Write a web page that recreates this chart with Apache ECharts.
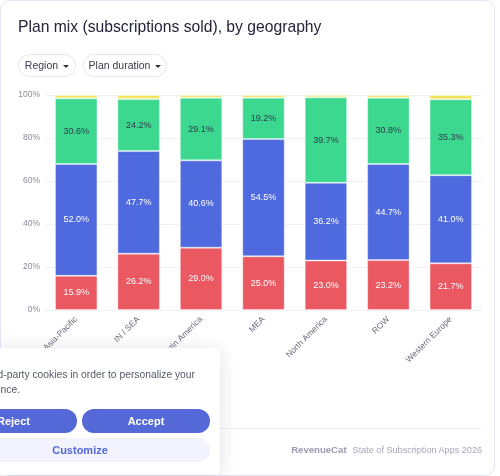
<!DOCTYPE html>
<html>
<head>
<meta charset="utf-8">
<script src="https://cdn.jsdelivr.net/npm/echarts@6/dist/echarts.min.js"></script>
<style>
  html, body { margin: 0; padding: 0; background: #fff; font-family: "Liberation Sans", Arial, sans-serif; }
  .card {
    position: absolute; left: 0; top: 0; width: 495px; height: 476px;
    border: 1px solid #e3e5f6; border-radius: 10px; box-sizing: border-box;
  }
  .title { position: absolute; left: 18px; top: 18px; font-size: 15.7px; color: #24243a; white-space: nowrap; }
  .btn {
    position: absolute; top: 54px; height: 23px; border: 1px solid #e4e4ec; border-radius: 12px;
    font-size: 10.5px; color: #3a3a4a; line-height: 21px; box-sizing: border-box; white-space: nowrap; text-align: center;
  }
  .btn .caret { display: inline-block; margin-left: 5px; border-left: 3px solid transparent; border-right: 3px solid transparent; border-top: 3px solid #333; vertical-align: middle; }
  #chart { position: absolute; left: 0; top: 0; width: 500px; height: 476px; }
  .footline { position: absolute; left: 18px; right: 18px; top: 428px; height: 1px; background: #f0f0f5; }
  .foot { position: absolute; right: 18px; top: 444px; font-size: 9.1px; color: #a6a6b8; white-space: nowrap; }
  .foot b { color: #9a9ab0; font-size: 9.6px; font-weight: 700; margin-right: 6px; }
  .banner {
    position: absolute; left: -70px; top: 348px; width: 290px; height: 127px; background: #fff;
    border-radius: 6px; box-shadow: 0 2px 18px rgba(40,40,80,0.14);
  }
  .banner .txt { position: absolute; font-size: 10.3px; color: #555866; line-height: 15px; white-space: nowrap; text-align: right; }
  .pill { position: absolute; height: 24px; border-radius: 12px; font-size: 11px; font-weight: 700; text-align: center; line-height: 24px; }
  .reject { left: 20px; top: 61px; width: 127px; background: #5468d8; color: #fff; }
  .accept { left: 152px; top: 61px; width: 128px; background: #5468d8; color: #fff; }
  .custom { left: 20px; top: 90px; width: 260px; background: #f2f3fd; color: #5468d8; }
</style>
</head>
<body>
<div class="card"></div>
<div id="chart"></div>
<div class="title">Plan mix (subscriptions sold), by geography</div>
<div class="btn" style="left:18px;width:58px;">Region<span class="caret"></span></div>
<div class="btn" style="left:83px;width:84px;">Plan duration<span class="caret"></span></div>
<div class="footline"></div>
<div class="foot"><b>RevenueCat</b>State of Subscription Apps 2026</div>
<div class="banner">
  <div class="txt" style="right:25px;top:19px;">We use third-party cookies in order to personalize your</div>
  <div class="txt" style="right:200px;top:34px;">experience.</div>
  <div class="pill reject">Reject</div>
  <div class="pill accept">Accept</div>
  <div class="pill custom">Customize</div>
</div>
<script>
  // 区域
  const regions = ['Asia-Pacific', 'IN / SEA', 'Latin America', 'MEA', 'North America', 'ROW', 'Western Europe'];
  // 各时长占比（%）
  const monthly = [15.9, 26.2, 29.0, 25.0, 23.0, 23.2, 21.7];
  const annual = [52.0, 47.7, 40.6, 54.5, 36.2, 44.7, 41.0];
  const weekly = [30.6, 24.2, 29.1, 19.2, 39.7, 30.8, 35.3];
  const other = [1.5, 1.9, 1.3, 1.3, 1.1, 1.3, 2.0];
  const yTicks = [0, 20, 40, 60, 80, 100];

  const chart = echarts.init(document.getElementById('chart'));

  function makeSerie(name, data, color, labelColor, showLabel) {
    return {
      name: name,
      type: 'bar',
      stack: 'total',
      barWidth: '68%',
      data: data,
      itemStyle: { color: color, borderColor: 'rgba(255,255,255,0.35)', borderWidth: 1 },
      label: {
        show: showLabel,
        position: 'inside',
        color: labelColor,
        fontSize: 9,
        fontFamily: 'Liberation Sans, Arial, sans-serif',
        formatter: p => p.value.toFixed(1) + '%'
      }
    };
  }

  const option = {
    animation: false,
    grid: { left: 45, right: 18, top: 95, bottom: 166 },
    xAxis: {
      type: 'category',
      data: regions,
      axisLine: { lineStyle: { color: '#f0f0f4' } },
      axisTick: { show: false },
      axisLabel: { rotate: 45, fontSize: 8.5, color: '#6b6b7b', margin: 8, interval: 0, fontFamily: 'Liberation Sans, Arial, sans-serif' }
    },
    yAxis: {
      type: 'value',
      min: yTicks[0],
      max: yTicks[yTicks.length - 1],
      interval: 20,
      axisLabel: { formatter: '{value}%', fontSize: 8.5, color: '#8a8a98', margin: 5, fontFamily: 'Liberation Sans, Arial, sans-serif' },
      splitLine: { lineStyle: { color: '#f2f2f6' } }
    },
    series: [
      makeSerie('Monthly', monthly, '#ea5862', '#ffffff', true),
      makeSerie('Annual', annual, '#4f6ade', '#ffffff', true),
      makeSerie('Weekly', weekly, '#3cd890', '#2f3b4a', true),
      makeSerie('Other', other, '#f4e35c', '#2f3b4a', false)
    ]
  };
  chart.setOption(option);
</script>
</body>
</html>
